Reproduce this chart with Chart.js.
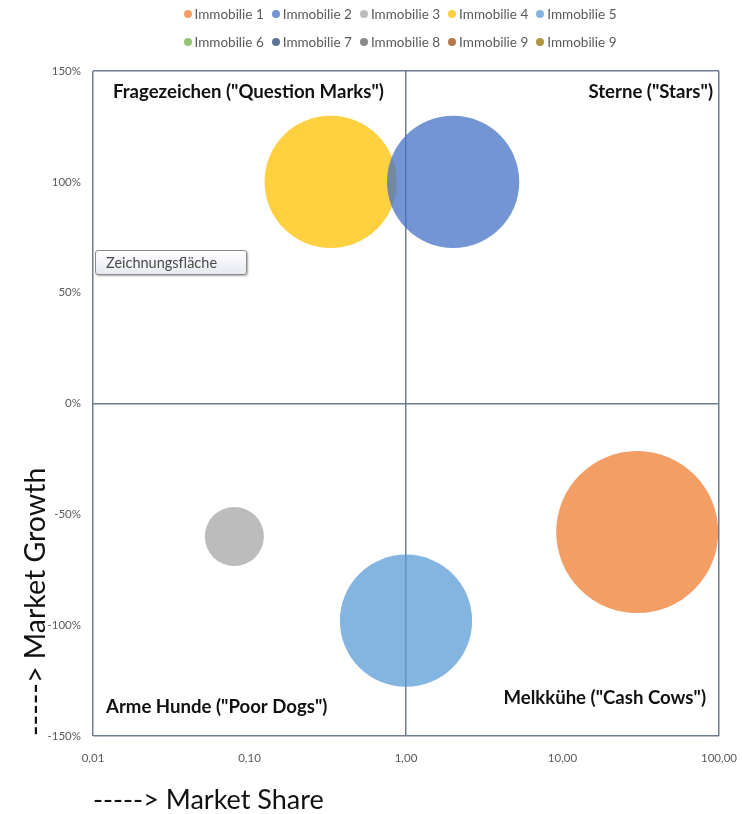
<!DOCTYPE html>
<html>
<head>
<meta charset="utf-8">
<script src="https://cdn.jsdelivr.net/npm/chart.js@4.4.1/dist/chart.umd.min.js"></script>
<style>
  body { margin: 0; background: #fff; font-family: Lato, sans-serif; }
  #wrap { position: relative; width: 742px; height: 814px; }
  #legend {
    position: absolute; left: 160px; top: 4px; width: 480px;
    display: flex; flex-wrap: wrap; justify-content: center; row-gap: 9px;
    font-size: 13.5px; color: #595959;
  }
  #legend .item { display: flex; align-items: center; margin: 0 4px; height: 19px; }
  #legend .dot { width: 8px; height: 8px; border-radius: 50%; margin-right: 3px; }
  #tip {
    position: absolute; left: 95px; top: 250px; width: 152px; height: 25px;
    border: 1px solid #8a8a8a; border-radius: 3px;
    background: linear-gradient(#ffffff, #e6e9f0);
    box-shadow: 1px 1px 2px rgba(0,0,0,0.35);
    font-size: 14.5px; color: #4a4a4a; line-height: 24px; padding-left: 10px; box-sizing: border-box;
  }
</style>
</head>
<body>
<div id="wrap">
  <canvas id="chart" width="742" height="814"></canvas>
  <div id="legend"></div>
  <div id="tip">Zeichnungsfläche</div>
</div>
<script>
const names = ['Immobilie 1', 'Immobilie 2', 'Immobilie 3', 'Immobilie 4', 'Immobilie 5',
               'Immobilie 6', 'Immobilie 7', 'Immobilie 8', 'Immobilie 9', 'Immobilie 9'];
const colors = ['#ED7D31', '#4472C4', '#A5A5A5', '#FFC000', '#5B9BD5',
                '#70AD47', '#264478', '#636363', '#9E480E', '#997300'];
// only the first five have data
const marketShare = [30, 2, 0.08, 0.33, 1];
const marketGrowth = [-0.58, 1.0, -0.6, 1.0, -0.98];
const bubbleSize = [150, 100, 20, 100, 100];

const xTicks = [0.01, 0.1, 1, 10, 100];
const yTicks = [-1.5, -1, -0.5, 0, 0.5, 1, 1.5];

const quadrants = [
  { text: 'Fragezeichen ("Question Marks")', corner: 'tl' },
  { text: 'Sterne ("Stars")', corner: 'tr' },
  { text: 'Arme Hunde ("Poor Dogs")', corner: 'bl' },
  { text: 'Melkkühe ("Cash Cows")', corner: 'br' }
];

const lineColor = '#6e7d92';
const maxSize = Math.max(...bubbleSize);
const maxRadius = 81;

function alpha(hex, a) {
  const n = parseInt(hex.slice(1), 16);
  return `rgba(${n >> 16}, ${(n >> 8) & 255}, ${n & 255}, ${a})`;
}

const datasets = names.map((name, i) => ({
  label: name,
  data: i < marketShare.length
    ? [{ x: marketShare[i], y: marketGrowth[i], r: maxRadius * Math.sqrt(bubbleSize[i] / maxSize) }]
    : [],
  backgroundColor: alpha(colors[i], 0.75),
  borderWidth: 0,
  hoverBorderWidth: 0
}));

const quadrantLabels = {
  id: 'quadrantLabels',
  afterDatasetsDraw(chart) {
    const { ctx, chartArea: a } = chart;
    ctx.save();
    ctx.font = 'bold 18.6px Lato';
    ctx.fillStyle = '#111';
    ctx.textBaseline = 'middle';
    quadrants.forEach(q => {
      if (q.corner === 'tl') { ctx.textAlign = 'left'; ctx.fillText(q.text, a.left + 20, a.top + 21); }
      if (q.corner === 'tr') { ctx.textAlign = 'right'; ctx.fillText(q.text, a.right - 6, a.top + 21); }
      if (q.corner === 'bl') { ctx.textAlign = 'left'; ctx.fillText(q.text, a.left + 13, a.bottom - 29); }
      if (q.corner === 'br') { ctx.textAlign = 'right'; ctx.fillText(q.text, a.right - 13, a.bottom - 38); }
    });
    ctx.restore();
  }
};

// keep tick labels from pushing the plot area inwards
function noPadding(s) {
  s.paddingLeft = 0; s.paddingRight = 0; s.paddingTop = 0; s.paddingBottom = 0;
}

const chart = new Chart(document.getElementById('chart'), {
  type: 'bubble',
  data: { datasets },
  plugins: [quadrantLabels],
  options: {
    responsive: false,
    animation: false,
    layout: { autoPadding: false, padding: { top: 71, right: 23, left: 0, bottom: 0 } },
    plugins: {
      legend: { display: false },
      tooltip: { enabled: false }
    },
    elements: { point: { hoverRadius: 0 } },
    clip: false,
    scales: {
      x: {
        type: 'logarithmic',
        min: 0.01,
        max: 100,
        afterBuildTicks: s => { s.ticks = xTicks.map(v => ({ value: v })); },
        afterFit: s => { s.height = 78; noPadding(s); },
        ticks: {
          padding: 15,
          color: '#595959',
          font: { family: 'Lato', size: 11.5 },
          maxRotation: 0,
          autoSkip: false,
          callback: v => v.toFixed(2).replace('.', ',')
        },
        grid: {
          drawTicks: false,
          lineWidth: 1.5,
          color: c => [0.01, 1, 100].includes(c.tick && c.tick.value) ? lineColor : 'transparent'
        },
        border: { display: false },
        title: {
          display: true,
          text: '-----> Market Share',
          align: 'start',
          color: '#111',
          font: { family: 'Lato', size: 27, lineHeight: 1.0 },
          padding: { top: 0, bottom: 0 }
        }
      },
      y: {
        min: -1.5,
        max: 1.5,
        afterBuildTicks: s => { s.ticks = yTicks.map(v => ({ value: v })); },
        afterFit: s => { s.width = 93; noPadding(s); },
        ticks: {
          padding: 12,
          color: '#595959',
          font: { family: 'Lato', size: 11.5 },
          autoSkip: false,
          callback: v => Math.round(v * 100) + '%'
        },
        grid: {
          drawTicks: false,
          lineWidth: 1.5,
          color: c => [-1.5, 0, 1.5].includes(c.tick && c.tick.value) ? lineColor : 'transparent'
        },
        border: { display: false },
        title: {
          display: true,
          text: '-----> Market Growth',
          align: 'start',
          color: '#111',
          font: { family: 'Lato', size: 28.5, lineHeight: 1.0 },
          padding: { top: 22, bottom: 0 }
        }
      }
    }
  }
});

// legend with five entries per row, built from the chart's datasets
const legend = document.getElementById('legend');
chart.data.datasets.forEach((ds, i) => {
  const item = document.createElement('div');
  item.className = 'item';
  item.innerHTML = `<span class="dot" style="background:${alpha(colors[i], 0.75)}"></span>${ds.label}`;
  legend.appendChild(item);
});
</script>
</body>
</html>
